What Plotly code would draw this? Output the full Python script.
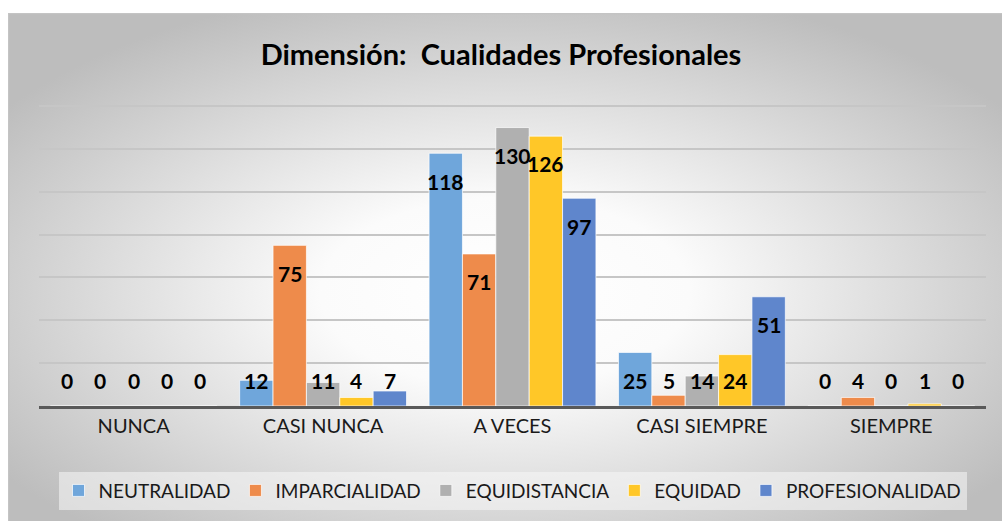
import base64
import plotly.graph_objects as go

categorias = ["NUNCA", "CASI NUNCA", "A VECES", "CASI SIEMPRE", "SIEMPRE"]
neutralidad = [0, 12, 118, 25, 0]
imparcialidad = [0, 75, 71, 5, 4]
equidistancia = [0, 11, 130, 14, 0]
equidad = [0, 4, 126, 24, 1]
profesionalidad = [0, 7, 97, 51, 0]

series = [
    ("NEUTRALIDAD", neutralidad, "#6FA6DB"),
    ("IMPARCIALIDAD", imparcialidad, "#EE8B4B"),
    ("EQUIDISTANCIA", equidistancia, "#B0B0B0"),
    ("EQUIDAD", equidad, "#FFC728"),
    ("PROFESIONALIDAD", profesionalidad, "#5F86CC"),
]

W, H = 1002, 521
ml, mr, mt, mb = 39, 16, 104, 115
pw, ph = W - ml - mr, H - mt - mb
bargap = 0.119
slot = pw / len(categorias) * (1 - bargap) / len(series)

fig = go.Figure()
for name, vals, col in series:
    fig.add_trace(go.Bar(
        x=categorias, y=vals, name=name,
        marker=dict(color=col, line=dict(color="rgba(255,255,255,0.7)", width=1)),
    ))

# data labels: inside end, kept above the baseline for small bars
ann = []
for i, (name, vals, col) in enumerate(series):
    for c, v in zip(categorias, vals):
        ann.append(dict(
            x=c, y=max(v - 13.0, 11.7), text=str(v), showarrow=False,
            xshift=(i - 2) * slot, yanchor="middle",
            font=dict(family="Lato", size=21, color="#000000", weight="bold"),
        ))

svg = '''<svg xmlns="http://www.w3.org/2000/svg" width="994" height="508" viewBox="0 0 994 508">
<defs><radialGradient id="g" cx="50%" cy="55%" r="62%">
<stop offset="0" stop-color="#ffffff"/><stop offset="0.3" stop-color="#fbfbfb"/>
<stop offset="1" stop-color="#bdbdbd"/></radialGradient></defs>
<rect x="0" y="0" width="994" height="508" fill="url(#g)"/>
<line x1="0" y1="0.5" x2="994" y2="0.5" stroke="#c4c4c4" stroke-width="1.5"/>
<line x1="0.5" y1="0" x2="0.5" y2="508" stroke="#c4c4c4" stroke-width="1.5"/>
</svg>'''
src = "data:image/svg+xml;base64," + base64.b64encode(svg.encode()).decode()

fig.update_layout(
    width=W, height=H,
    margin=dict(l=ml, r=mr, t=mt, b=mb),
    paper_bgcolor="white", plot_bgcolor="rgba(0,0,0,0)",
    barmode="group", bargap=bargap, bargroupgap=0,
    title=dict(text="Dimensión:  Cualidades Profesionales", x=0.5, xanchor="center",
               y=1 - 55 / H, yanchor="middle",
               font=dict(family="Lato", size=29, color="#000000", weight="bold")),
    font=dict(family="Lato", color="#1a1a1a"),
    xaxis=dict(showline=True, linecolor="#595959", linewidth=3, ticks="",
               tickfont=dict(size=20, color="#1a1a1a"), showgrid=False),
    yaxis=dict(range=[0, 141], tickvals=[20, 40, 60, 80, 100, 120, 140],
               showticklabels=False, showgrid=True,
               gridcolor="#c6c6c6", gridwidth=1.5, zeroline=False),
    legend=dict(orientation="h", x=0.5, xanchor="center", y=-0.28, yanchor="middle",
                bgcolor="rgba(248,248,248,0.55)", font=dict(size=19, color="#1a1a1a"),
                itemwidth=30, traceorder="normal"),
    showlegend=True,
    annotations=ann,
    images=[dict(source=src, xref="paper", yref="paper",
                 x=(8 - ml) / pw, y=(H - mb - 13) / ph,
                 sizex=(W - 8) / pw, sizey=(H - 13) / ph,
                 xanchor="left", yanchor="top", sizing="stretch", layer="below")],
)

fig.write_html("out.html", config={"responsive": False, "displayModeBar": False},
               post_script="document.body.style.margin='0';")
